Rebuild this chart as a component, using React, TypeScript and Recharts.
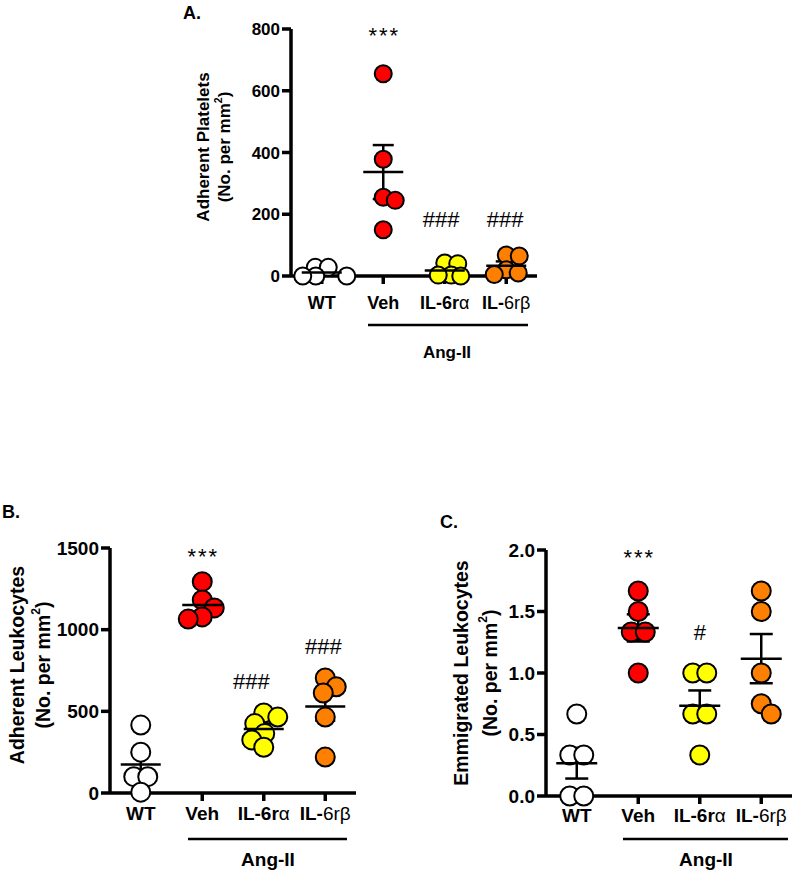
import React from 'react';
import { ScatterChart, Scatter, XAxis, YAxis, ErrorBar } from 'recharts';

const FONT = '"Liberation Sans", Arial, Helvetica, sans-serif';

const categories = ['WT', 'Veh', 'IL-6rα', 'IL-6rβ'];
const groupColors = ['#FFFFFF', '#FF0000', '#FFFF00', '#FF8000'];

// Panel A – Adherent platelets
const plateletWT = [28, 28, 0, 0, 0];
const plateletVeh = [655, 378, 255, 245, 150];
const plateletIL6ra = [42, 40, 3, 3, 0];
const plateletIL6rb = [68, 65, 20, 10, 5];
const plateletTicks = [0, 200, 400, 600, 800];

// Panel B – Adherent leukocytes
const adherentWT = [416, 250, 100, 100, 5];
const adherentVeh = [1294, 1182, 1133, 1078, 1065];
const adherentIL6ra = [490, 465, 425, 365, 325, 280];
const adherentIL6rb = [704, 650, 612, 465, 220];
const adherentTicks = [0, 500, 1000, 1500];

// Panel C – Emigrated leukocytes
const emigratedWT = [0.667, 0.333, 0.333, 0, 0];
const emigratedVeh = [1.667, 1.5, 1.333, 1.333, 1.0];
const emigratedIL6ra = [1.0, 1.0, 0.667, 0.667, 0.333];
const emigratedIL6rb = [1.667, 1.5, 1.0, 0.75, 0.667];
const emigratedTicks = [0, 0.5, 1.0, 1.5, 2.0];

// significance marks (category position, value position, text)
const plateletMarks = [
  { x: 1, y: 796, text: '***' },
  { x: 1.94, y: 184, text: '###' },
  { x: 2.98, y: 184, text: '###' },
];
const adherentMarks = [
  { x: 1, y: 1475, text: '***' },
  { x: 1.8, y: 686, text: '###' },
  { x: 2.97, y: 897, text: '###' },
];
const emigratedMarks = [
  { x: 1, y: 1.976, text: '***' },
  { x: 2, y: 1.333, text: '#' },
];

const labelParts: Record<string, [string, string]> = {
  'WT': ['WT', ''],
  'Veh': ['Veh', ''],
  'IL-6rα': ['IL-6r', 'α'],
  'IL-6rβ': ['IL-', '6rβ'],
};

const X_AXIS_H = 54;

// deterministic beeswarm: returns horizontal pixel offsets
function swarm(values: number[], pxPerUnit: number, minDist: number): number[] {
  const order = values.map((_, i) => i).sort((a, b) => values[b] - values[a]);
  const placed: { x: number; y: number }[] = [];
  const offs: number[] = new Array(values.length).fill(0);
  for (const i of order) {
    const y = values[i] * pxPerUnit;
    let chosen = 0;
    for (let k = 0; k < 400; k++) {
      const cand = k === 0 ? 0 : k % 2 === 1 ? Math.ceil(k / 2) : -Math.ceil(k / 2);
      if (placed.every((p) => Math.hypot(p.x - cand, p.y - y) >= minDist)) {
        chosen = cand;
        break;
      }
    }
    placed.push({ x: chosen, y });
    offs[i] = chosen;
  }
  const rows = new Map<number, number[]>();
  values.forEach((v, i) => {
    const arr = rows.get(v) || [];
    arr.push(i);
    rows.set(v, arr);
  });
  rows.forEach((idx) => {
    if (idx.length < 2) return;
    const m = idx.reduce((s, i) => s + offs[i], 0) / idx.length;
    idx.forEach((i) => (offs[i] -= m));
  });
  return offs;
}

function stats(vals: number[]) {
  const n = vals.length;
  const m = vals.reduce((a, b) => a + b, 0) / n;
  const sd = Math.sqrt(vals.reduce((a, b) => a + (b - m) * (b - m), 0) / (n - 1));
  return { mean: m, sem: sd / Math.sqrt(n) };
}

type Mark = { x: number; y: number; text: string };

type PanelProps = {
  left: number;
  top: number;
  width: number;
  height: number;
  marginTop: number;
  marginRight: number;
  yAxisWidth: number;
  domain: [number, number];
  ticks: number[];
  tickFormat?: (v: number) => string;
  groups: number[][];
  radius: number;
  marks: Mark[];
  tickFont: number;
  catFont: number;
  catDy: number;
  meanHalf: number;
  capHalf: number;
};

const MarkShape = (sp: any) => {
  const t: string = sp.payload.text;
  const fs = 22;
  const star = t.startsWith('*');
  const dy = star ? fs * 0.56 : fs * 0.36;
  return (
    <text
      x={sp.cx + (star ? 1 : 0)}
      y={sp.cy + dy}
      textAnchor="middle"
      fontSize={fs}
      fontFamily={FONT}
      fill="#000"
      letterSpacing={star ? 2 : 0}
    >
      {t}
    </text>
  );
};

function Panel(p: PanelProps) {
  const plotH = p.height - p.marginTop - X_AXIS_H;
  const plotW = p.width - p.marginRight - p.yAxisWidth;
  const pxPerUnit = plotH / (p.domain[1] - p.domain[0]);
  const pxPerCat = plotW / categories.length;
  const pointSets = p.groups.map((vals, gi) => {
    const offs = swarm(vals, pxPerUnit, p.radius * 2 * 0.72);
    return vals.map((v, i) => ({ x: gi + offs[i] / pxPerCat, y: v }));
  });
  const means = p.groups.map((vals, gi) => {
    const s = stats(vals);
    return { x: gi, y: s.mean, sem: s.sem };
  });

  const CatTick = (tp: any) => {
    const label = categories[tp.payload.value] ?? '';
    const [b, n] = labelParts[label] || [label, ''];
    return (
      <text
        x={tp.x}
        y={tp.y + p.catDy}
        textAnchor="middle"
        dominantBaseline="central"
        fontSize={p.catFont}
        fontFamily={FONT}
        fill="#000"
      >
        <tspan fontWeight={700}>{b}</tspan>
        {n ? <tspan fontWeight={400}>{n}</tspan> : null}
      </text>
    );
  };

  const axisStyle = { stroke: '#000', strokeWidth: 3.5 };

  return (
    <div style={{ position: 'absolute', left: p.left, top: p.top }}>
      <ScatterChart
        width={p.width}
        height={p.height}
        margin={{ top: p.marginTop, right: p.marginRight, bottom: 0, left: 0 }}
      >
        <XAxis
          type="number"
          dataKey="x"
          domain={[-0.5, 3.5]}
          ticks={[0, 1, 2, 3]}
          interval={0}
          height={X_AXIS_H}
          tickSize={8}
          tickMargin={0}
          axisLine={axisStyle}
          tickLine={axisStyle}
          tick={CatTick}
        />
        <YAxis
          type="number"
          dataKey="y"
          domain={p.domain}
          ticks={p.ticks}
          interval={0}
          width={p.yAxisWidth}
          tickSize={9}
          tickMargin={2}
          axisLine={axisStyle}
          tickLine={axisStyle}
          tickFormatter={p.tickFormat}
          tick={{ fill: '#000', fontSize: p.tickFont, fontWeight: 700, fontFamily: FONT }}
        />
        {pointSets.map((pts, gi) => (
          <Scatter
            key={gi}
            data={pts}
            isAnimationActive={false}
            shape={(sp: any) => (
              <circle
                cx={sp.cx}
                cy={sp.cy}
                r={p.radius}
                fill={groupColors[gi]}
                stroke="#000"
                strokeWidth={2}
              />
            )}
          />
        ))}
        <Scatter
          data={means}
          isAnimationActive={false}
          shape={(sp: any) => (
            <line
              x1={sp.cx - p.meanHalf}
              x2={sp.cx + p.meanHalf}
              y1={sp.cy}
              y2={sp.cy}
              stroke="#000"
              strokeWidth={2.5}
            />
          )}
        >
          <ErrorBar
            dataKey="sem"
            direction="y"
            width={p.capHalf}
            stroke="#000"
            strokeWidth={2.5}
            isAnimationActive={false}
          />
        </Scatter>
        <Scatter data={p.marks} isAnimationActive={false} shape={MarkShape} />
      </ScatterChart>
    </div>
  );
}

function YTitle({ x1, x2, y, size, title }: { x1: number; x2: number; y: number; size: number; title: string }) {
  return (
    <g fontFamily={FONT} fontWeight={700} fontSize={size} fill="#000">
      <text x={x1} y={y} textAnchor="middle" dominantBaseline="central" transform={`rotate(-90, ${x1}, ${y})`}>
        {title}
      </text>
      <text x={x2} y={y} textAnchor="middle" dominantBaseline="central" transform={`rotate(-90, ${x2}, ${y})`}>
        <tspan>(No. per mm</tspan>
        <tspan fontSize={size * 0.62} dy={-size * 0.38}>2</tspan>
        <tspan dy={size * 0.38}>)</tspan>
      </text>
    </g>
  );
}

export default function App() {
  return (
    <div
      style={{
        position: 'absolute',
        left: 0,
        top: 0,
        width: 800,
        height: 872,
        background: '#fff',
        overflow: 'hidden',
      }}
    >
      <Panel
        left={0}
        top={0}
        width={560}
        height={330}
        marginTop={29}
        marginRight={23}
        yAxisWidth={291}
        domain={[0, 800]}
        ticks={plateletTicks}
        groups={[plateletWT, plateletVeh, plateletIL6ra, plateletIL6rb]}
        radius={8.5}
        marks={plateletMarks}
        tickFont={17}
        catFont={18}
        catDy={19}
        meanHalf={20}
        capHalf={10.5}
      />
      <Panel
        left={0}
        top={480}
        width={380}
        height={367}
        marginTop={68}
        marginRight={24}
        yAxisWidth={110}
        domain={[0, 1500]}
        ticks={adherentTicks}
        groups={[adherentWT, adherentVeh, adherentIL6ra, adherentIL6rb]}
        radius={9.5}
        marks={adherentMarks}
        tickFont={19}
        catFont={19}
        catDy={12}
        meanHalf={20}
        capHalf={10}
      />
      <Panel
        left={420}
        top={480}
        width={380}
        height={370}
        marginTop={70}
        marginRight={8}
        yAxisWidth={126}
        domain={[0, 2]}
        ticks={emigratedTicks}
        tickFormat={(v: number) => v.toFixed(1)}
        groups={[emigratedWT, emigratedVeh, emigratedIL6ra, emigratedIL6rb]}
        radius={9.5}
        marks={emigratedMarks}
        tickFont={19}
        catFont={19}
        catDy={11}
        meanHalf={20.5}
        capHalf={11.5}
      />
      <svg
        width={800}
        height={872}
        style={{ position: 'absolute', left: 0, top: 0, pointerEvents: 'none' }}
      >
        <g fontFamily={FONT} fontWeight={700} fill="#000">
          <text x={183} y={19} fontSize={18}>A.</text>
          <text x={2} y={518} fontSize={18}>B.</text>
          <text x={440} y={528} fontSize={18}>C.</text>
        </g>
        <YTitle x1={203} x2={224} y={147} size={17} title="Adherent Platelets" />
        <YTitle x1={17} x2={43} y={665} size={19.5} title="Adherent Leukocytes" />
        <YTitle x1={461} x2={490} y={673} size={19.5} title="Emmigrated Leukocytes" />
        <g stroke="#000" strokeWidth={2.5}>
          <line x1={368} x2={528} y1={325} y2={325} />
          <line x1={188} x2={347} y1={839} y2={839} />
          <line x1={623} x2={788} y1={839} y2={839} />
        </g>
        <g fontFamily={FONT} fontWeight={700} fill="#000" textAnchor="middle" dominantBaseline="central">
          <text x={447} y={352} fontSize={17}>Ang-II</text>
          <text x={268} y={859} fontSize={19}>Ang-II</text>
          <text x={706} y={859} fontSize={19}>Ang-II</text>
        </g>
      </svg>
    </div>
  );
}
